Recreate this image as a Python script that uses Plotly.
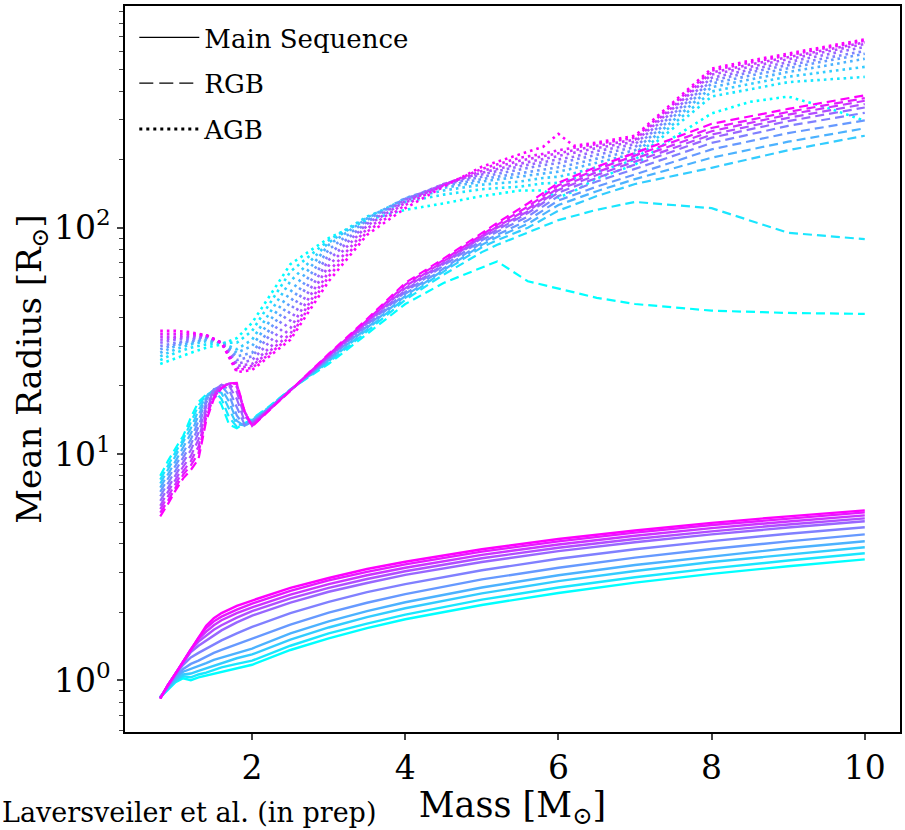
import plotly.graph_objects as go

# ---------------- data ----------------
MS_MASS = [0.8, 0.9, 1.0, 1.1, 1.2, 1.3, 1.4, 1.5, 1.6, 1.8, 2.0, 2.5, 3.0, 3.5, 4.0, 5.0, 6.0, 7.0, 8.0, 9.0, 10.0]
ms_z0 = [0.84, 0.91, 0.98, 1.02, 1.00, 1.03, 1.05, 1.07, 1.09, 1.13, 1.17, 1.36, 1.53, 1.70, 1.86, 2.15, 2.43, 2.70, 2.95, 3.19, 3.42]
ms_z1 = [0.84, 0.92, 0.99, 1.04, 1.03, 1.06, 1.08, 1.11, 1.14, 1.18, 1.22, 1.42, 1.61, 1.78, 1.95, 2.27, 2.57, 2.85, 3.12, 3.38, 3.64]
ms_z2 = [0.84, 0.92, 1.00, 1.06, 1.07, 1.10, 1.13, 1.16, 1.19, 1.25, 1.30, 1.51, 1.71, 1.90, 2.08, 2.42, 2.74, 3.04, 3.33, 3.60, 3.87]
ms_z3 = [0.84, 0.93, 1.02, 1.09, 1.12, 1.15, 1.19, 1.23, 1.26, 1.32, 1.38, 1.61, 1.82, 2.02, 2.21, 2.57, 2.91, 3.23, 3.53, 3.83, 4.11]
ms_z4 = [0.84, 0.94, 1.04, 1.12, 1.18, 1.22, 1.27, 1.32, 1.36, 1.44, 1.52, 1.76, 1.99, 2.20, 2.40, 2.79, 3.14, 3.48, 3.80, 4.11, 4.41]
ms_z5 = [0.84, 0.95, 1.06, 1.17, 1.26, 1.32, 1.38, 1.44, 1.50, 1.61, 1.72, 1.98, 2.22, 2.45, 2.66, 3.06, 3.44, 3.79, 4.12, 4.44, 4.74]
ms_z6 = [0.83, 0.95, 1.07, 1.20, 1.33, 1.42, 1.50, 1.58, 1.66, 1.80, 1.93, 2.20, 2.46, 2.69, 2.92, 3.33, 3.72, 4.07, 4.41, 4.73, 5.04]
ms_z7 = [0.83, 0.95, 1.07, 1.21, 1.36, 1.48, 1.58, 1.67, 1.75, 1.89, 2.02, 2.30, 2.56, 2.80, 3.03, 3.46, 3.85, 4.21, 4.55, 4.88, 5.19]
ms_z8 = [0.83, 0.95, 1.07, 1.21, 1.37, 1.52, 1.64, 1.75, 1.84, 1.98, 2.10, 2.39, 2.66, 2.91, 3.14, 3.58, 3.98, 4.35, 4.70, 5.03, 5.35]
ms_z9 = [0.83, 0.95, 1.07, 1.21, 1.37, 1.54, 1.70, 1.82, 1.91, 2.05, 2.18, 2.48, 2.76, 3.01, 3.25, 3.70, 4.11, 4.49, 4.85, 5.19, 5.52]
ms_z10 = [0.83, 0.95, 1.07, 1.21, 1.37, 1.55, 1.74, 1.88, 1.98, 2.13, 2.25, 2.56, 2.83, 3.10, 3.34, 3.79, 4.21, 4.59, 4.96, 5.30, 5.63]

RGB_MASS = [0.8, 0.9, 1.0, 1.1, 1.2, 1.3, 1.4, 1.5, 1.6, 1.7, 1.8, 1.9, 2.0, 2.2, 2.5, 3.0, 3.5, 4.0, 4.5, 5.0, 5.2, 5.6, 6.0, 6.5, 7.0, 8.0, 9.0, 10.0]
rgb_z0 = [8.0, 9.3, 10.6, 12.0, 14.5, 17.0, 18.3, 18.6, 16.5, 13.5, 13.0, 13.6, 14.3, 16.0, 19.3, 25.0, 34.0, 46, 57, 67, 71, 58, 54, 49, 46, 43, 42, 41.6]
rgb_z1 = [7.7, 8.9, 10.2, 11.6, 13.8, 16.4, 18.2, 19.0, 17.5, 14.5, 13.2, 13.5, 14.2, 15.9, 19.3, 25.4, 34.8, 48, 62, 78, 84, 95, 108, 120, 130, 122, 95, 89]
rgb_z2 = [7.4, 8.5, 9.8, 11.2, 13.0, 15.6, 18.0, 19.2, 18.6, 15.8, 13.5, 13.4, 14.1, 15.8, 19.2, 25.7, 35.5, 49, 64, 82, 88, 100, 119, 138, 156, 184, 220, 255]
rgb_z3 = [7.1, 8.1, 9.3, 10.7, 12.3, 14.8, 17.7, 19.3, 19.5, 17.0, 14.0, 13.3, 14.0, 15.7, 19.2, 26.0, 36.2, 50, 65, 84, 91, 104, 126, 145, 164, 204, 240, 275]
rgb_z4 = [6.8, 7.8, 8.9, 10.2, 11.6, 14.0, 17.3, 19.3, 20.0, 18.2, 14.8, 13.3, 13.9, 15.6, 19.2, 26.3, 36.8, 51, 66, 86, 93, 108, 132, 152, 172, 222, 262, 298]
rgb_z5 = [6.5, 7.4, 8.5, 9.7, 11.0, 13.2, 16.8, 19.2, 20.2, 19.2, 16.0, 13.5, 13.8, 15.6, 19.1, 26.6, 37.3, 52, 68, 88, 96, 112, 138, 160, 182, 237, 282, 322]
rgb_z6 = [6.2, 7.1, 8.1, 9.2, 10.4, 12.4, 16.2, 19.0, 20.2, 20.0, 17.5, 14.0, 13.7, 15.5, 19.1, 26.9, 37.8, 53, 69, 90, 98, 116, 143, 166, 190, 250, 296, 340]
rgb_z7 = [5.9, 6.8, 7.7, 8.8, 9.8, 11.6, 15.6, 18.6, 20.0, 20.4, 18.8, 14.7, 13.6, 15.5, 19.1, 27.1, 38.2, 54, 70, 91, 100, 118, 147, 171, 196, 258, 306, 352]
rgb_z8 = [5.7, 6.5, 7.4, 8.4, 9.3, 10.8, 15.0, 18.2, 19.8, 20.5, 19.8, 15.3, 13.5, 15.4, 19.0, 27.3, 38.6, 55, 71, 92, 101, 121, 150, 176, 202, 267, 316, 364]
rgb_z9 = [5.5, 6.2, 7.1, 8.1, 8.9, 10.1, 14.5, 17.8, 19.6, 20.5, 20.4, 15.5, 13.3, 15.4, 19.0, 27.5, 39.0, 56, 72, 93, 103, 124, 154, 181, 208, 276, 325, 374]
rgb_z10 = [5.3, 6.0, 6.9, 7.8, 8.5, 9.5, 14.0, 17.5, 19.5, 20.5, 20.6, 15.5, 13.2, 15.3, 19.0, 27.7, 39.5, 57, 73, 95, 105, 128, 158, 186, 214, 288, 335, 385]

AGB_MASS = [0.8, 1.0, 1.2, 1.4, 1.6, 1.8, 2.0, 2.5, 3.0, 3.5, 4.0, 4.5, 5.0, 5.5, 5.8, 6.0, 6.2, 6.5, 7.0, 7.5, 8.0, 8.5, 9.0, 9.5, 10.0]
agb_z0 = [25, 26.5, 28, 29.5, 30.5, 32.5, 38, 69, 90, 108, 120, 128, 138, 146, 146, 136, 145, 165, 190, 250, 320, 360, 380, 340, 297]
agb_z1 = [26, 28, 29.5, 30.5, 31, 31, 35, 64, 88, 112, 130, 140, 148, 152, 157, 158, 165, 176, 200, 276, 380, 409, 440, 452, 464]
agb_z2 = [27, 29, 30.5, 31.5, 31, 29, 32, 58, 86, 111, 134, 146, 155, 160, 166, 168, 174, 185, 206, 287, 400, 432, 465, 489, 514]
agb_z3 = [28, 30, 31, 32, 31, 28, 30, 52, 84, 110, 135, 150, 160, 168, 174, 177, 183, 194, 213, 298, 418, 452, 488, 521, 558]
agb_z4 = [29, 30.5, 31.5, 32.5, 31, 27, 28, 47, 80, 108, 135, 153, 164, 174, 181, 185, 191, 202, 220, 309, 434, 470, 508, 546, 587]
agb_z5 = [30, 31, 32, 33, 31, 26, 27, 43, 76, 106, 134, 155, 168, 181, 189, 193, 199, 210, 227, 318, 447, 486, 525, 563, 604]
agb_z6 = [31, 32, 32.5, 33, 31, 25, 26, 39, 72, 104, 133, 156, 172, 187, 195, 200, 206, 218, 234, 328, 460, 499, 540, 584, 630]
agb_z7 = [32, 32.5, 33, 33.5, 31, 24.5, 25, 36, 68, 102, 131, 156, 175, 192, 201, 208, 214, 225, 240, 337, 475, 514, 555, 600, 649]
agb_z8 = [33, 33, 33.5, 33.5, 31, 24, 24.5, 34, 64, 99, 129, 155, 178, 198, 207, 214, 220, 230, 245, 344, 485, 526, 568, 612, 660]
agb_z9 = [34, 34, 34, 33.5, 31, 23.5, 24, 33, 61, 96, 126, 154, 182, 204, 212, 220, 226, 235, 250, 352, 495, 537, 580, 623, 670]
agb_z10 = [35, 35, 34.5, 33.5, 31, 23, 23.5, 32, 58, 93, 122, 152, 186, 212, 228, 260, 230, 238, 255, 359, 505, 547, 590, 633, 680]

PHASES = ["Main Sequence", "RGB", "AGB"]
X_TICKS = [2, 4, 6, 8, 10]
Y_TICKS = [1, 10, 100]
Y_TICK_TEXT = ["10<sup>0</sup>", "10<sup>1</sup>", "10<sup>2</sup>"]
Y_MINOR = [0.6, 0.7, 0.8, 0.9, 2, 3, 4, 5, 6, 7, 8, 9, 20, 30, 40, 50, 60, 70, 80, 90,
           200, 300, 400, 500, 600, 700, 800, 900]

MS_TRACKS = [ms_z0, ms_z1, ms_z2, ms_z3, ms_z4, ms_z5, ms_z6, ms_z7, ms_z8, ms_z9, ms_z10]
RGB_TRACKS = [rgb_z0, rgb_z1, rgb_z2, rgb_z3, rgb_z4, rgb_z5, rgb_z6, rgb_z7, rgb_z8, rgb_z9, rgb_z10]
AGB_TRACKS = [agb_z0, agb_z1, agb_z2, agb_z3, agb_z4, agb_z5, agb_z6, agb_z7, agb_z8, agb_z9, agb_z10]

FONT = "DejaVu Serif"
N = len(MS_TRACKS)


def cool(t):
    return "rgb({},{},255)".format(int(round(255 * t)), int(round(255 * (1 - t))))


fig = go.Figure()
for k in range(N):
    c = cool(k / (N - 1))
    fig.add_trace(go.Scatter(x=MS_MASS, y=MS_TRACKS[k], mode="lines",
                             line=dict(color=c, width=2.4), showlegend=False, hoverinfo="skip"))
    fig.add_trace(go.Scatter(x=RGB_MASS, y=RGB_TRACKS[k], mode="lines",
                             line=dict(color=c, width=2.2, dash="9px,5px"), showlegend=False, hoverinfo="skip"))
    fig.add_trace(go.Scatter(x=AGB_MASS, y=AGB_TRACKS[k], mode="lines",
                             line=dict(color=c, width=2.6, dash="2.6px,4px"), showlegend=False, hoverinfo="skip"))

legend_styles = [dict(width=1.2), dict(width=1.2, dash="14px,6px"), dict(width=3, dash="3px,4px")]
for i, name in enumerate(PHASES):
    fig.add_trace(go.Scatter(x=[None], y=[None], mode="lines", name=name, legendgroup=name,
                             line=dict(color="black", **legend_styles[i])))

fig.update_layout(
    width=905, height=830,
    margin=dict(l=125, r=3, t=6, b=98),
    plot_bgcolor="white", paper_bgcolor="white",
    font=dict(family=FONT, color="black"),
    showlegend=True,
    legend=dict(x=0.012, y=0.989, xanchor="left", yanchor="top", bgcolor="rgba(0,0,0,0)",
                font=dict(size=26, family=FONT), tracegroupgap=9, itemwidth=60),
    annotations=[dict(text="Laversveiler et al. (in prep)", xref="paper", yref="paper",
                      x=-125 / 777, y=-80 / 726, xanchor="left", yanchor="middle",
                      showarrow=False, font=dict(size=27, family=FONT))],
)
fig.update_xaxes(range=[0.34, 10.46], tickvals=X_TICKS, ticks="outside", ticklen=6, tickwidth=1.5,
                 showline=True, linewidth=1.5, linecolor="black", mirror=True, showgrid=False,
                 zeroline=False, tickfont=dict(size=33, family=FONT),
                 title=dict(text="Mass [M<sub>⊙</sub>]", font=dict(size=35, family=FONT), standoff=0))
fig.update_yaxes(type="log", range=[-0.229, 2.98], tickvals=Y_TICKS, ticktext=Y_TICK_TEXT,
                 ticks="outside", ticklen=6, tickwidth=1.5,
                 minor=dict(tickvals=Y_MINOR, ticks="outside", ticklen=4, tickwidth=1.2, showgrid=False),
                 showline=True, linewidth=1.5, linecolor="black", mirror=True, showgrid=False,
                 zeroline=False, tickfont=dict(size=33, family=FONT),
                 title=dict(text="Mean Radius [R<sub>⊙</sub>]", font=dict(size=34, family=FONT), standoff=0))

fig.write_html("out.html")
